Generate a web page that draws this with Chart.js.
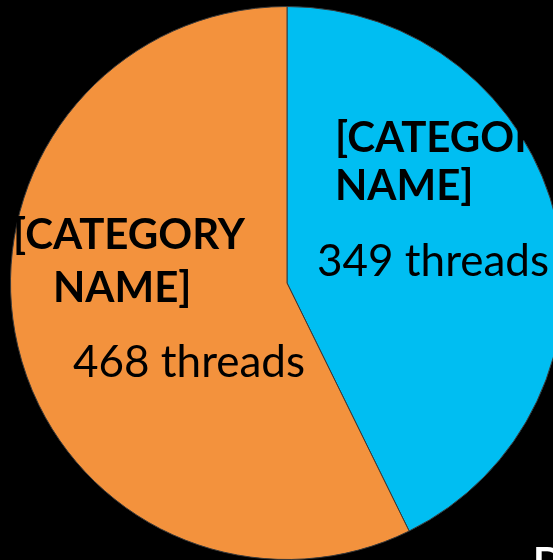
<!DOCTYPE html>
<html>
<head>
<meta charset="utf-8">
<script src="https://cdn.jsdelivr.net/npm/chart.js@4"></script>
<style>
  html, body { margin: 0; padding: 0; background: #000; overflow: hidden; }
  #wrap { width: 574px; height: 566px; }
</style>
</head>
<body>
<div id="wrap"><canvas id="pieChart" width="574" height="566"></canvas></div>
<script>
// thread counts per category
const categories = ['[CATEGORY NAME]', '[CATEGORY NAME]'];
const threadCounts = [349, 468];
const sliceColors = ['#00BEF2', '#F3923D'];

// label lines, left x offset from pie centre, baseline offset from pie centre
const labelLayout = [
  [{ t: '[CATEGORY', bold: true, dx: 48, dy: -131 },
   { t: 'NAME]', bold: true, dx: 48, dy: -83 },
   { t: threadCounts[0] + ' threads', bold: false, dx: 30, dy: -7 }],
  [{ t: '[CATEGORY', bold: true, dx: -274, dy: -34 },
   { t: 'NAME]', bold: true, dx: -234, dy: 19 },
   { t: threadCounts[1] + ' threads', bold: false, dx: -214, dy: 94 }]
];

const sliceLabels = {
  id: 'sliceLabels',
  afterDatasetsDraw(chart) {
    const c = chart.ctx;
    const arcs = chart.getDatasetMeta(0).data;
    c.save();
    c.fillStyle = '#000';
    c.textAlign = 'left';
    c.textBaseline = 'alphabetic';
    arcs.forEach((arc, i) => {
      labelLayout[i].forEach(line => {
        c.font = line.bold ? 'bold 42px Lato' : '44px Lato';
        c.fillText(line.t, arc.x + line.dx, arc.y + line.dy);
      });
    });
    // stray white letter in the lower right corner
    c.fillStyle = '#fff';
    c.font = 'bold 40px Lato';
    c.fillText('D', 533, 576);
    c.restore();
  }
};

new Chart(document.getElementById('pieChart').getContext('2d'), {
  type: 'pie',
  data: {
    labels: categories,
    datasets: [{
      data: threadCounts,
      backgroundColor: sliceColors,
      borderColor: '#3a3a3a',
      borderWidth: 1
    }]
  },
  options: {
    responsive: false,
    animation: false,
    layout: { padding: { top: 6, bottom: 6, left: 0, right: 0 } },
    plugins: {
      legend: { display: false },
      tooltip: { enabled: false }
    }
  },
  plugins: [sliceLabels]
});
</script>
</body>
</html>
